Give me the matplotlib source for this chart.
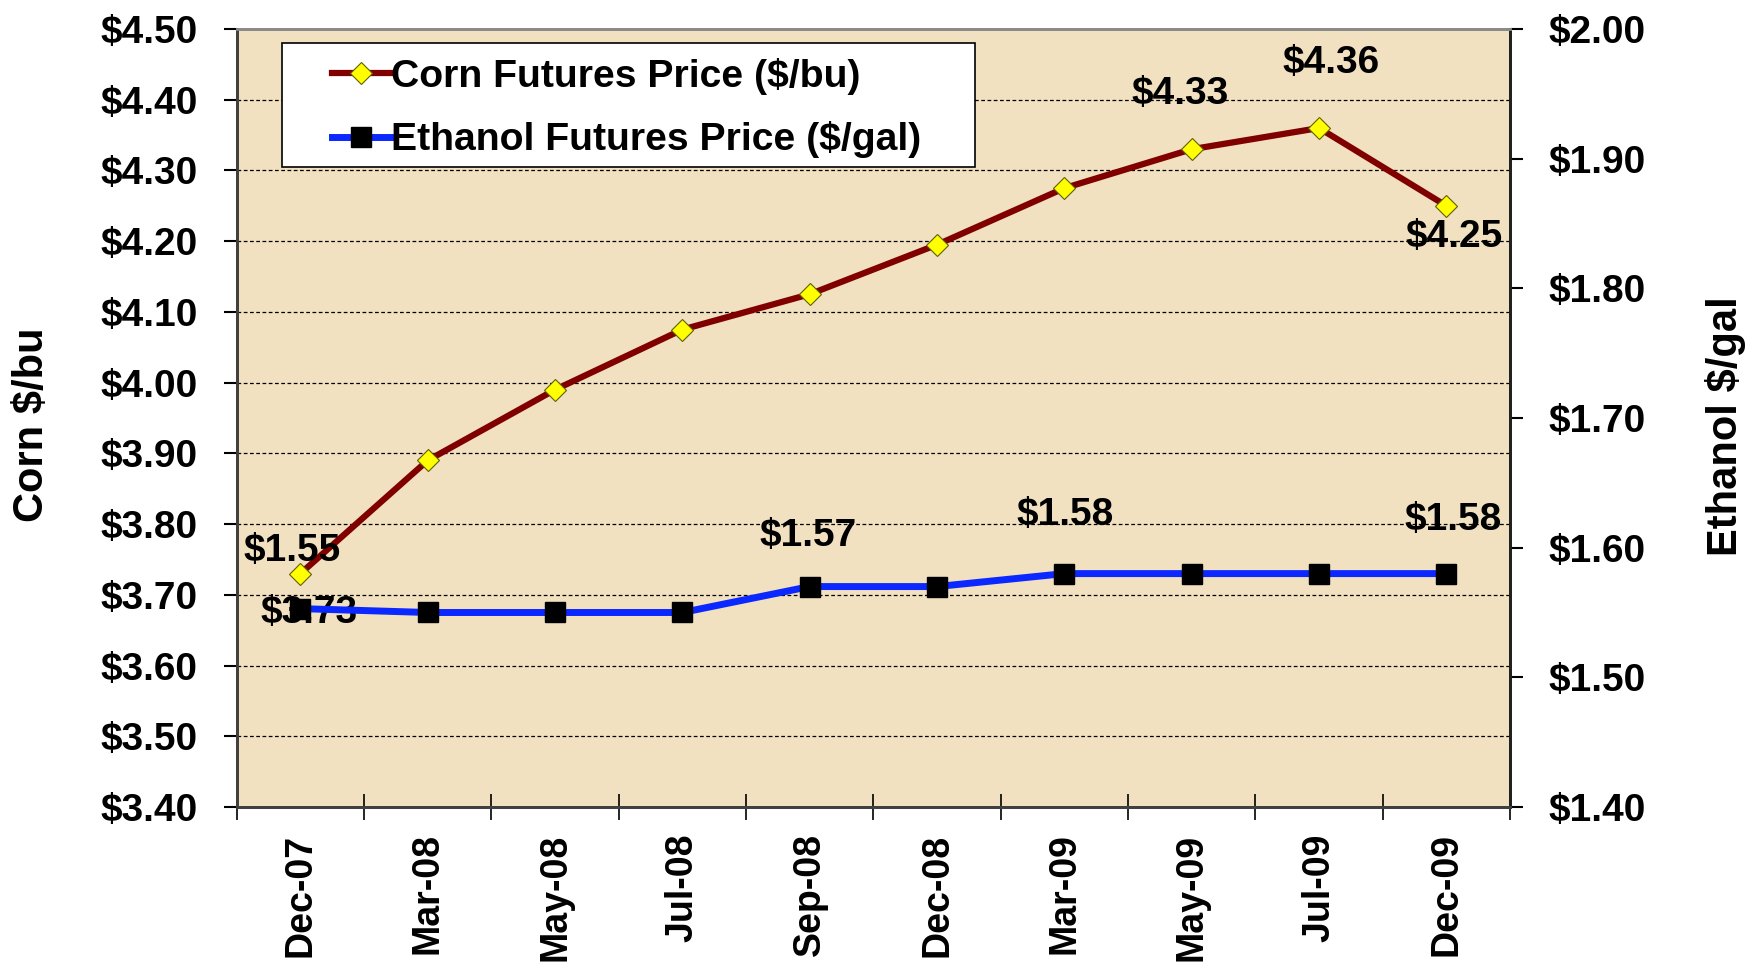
import matplotlib
matplotlib.use("Agg")
import matplotlib.pyplot as plt
from matplotlib.ticker import MultipleLocator, FixedLocator, FuncFormatter
from matplotlib.patches import Rectangle

plt.rcParams['font.family'] = ['Liberation Sans', 'DejaVu Sans']

# ---- data ----
months = ["Dec-07", "Mar-08", "May-08", "Jul-08", "Sep-08", "Dec-08",
          "Mar-09", "May-09", "Jul-09", "Dec-09"]
corn = [3.73, 3.89, 3.99, 4.075, 4.125, 4.195, 4.275, 4.33, 4.36, 4.25]
ethanol = [1.553, 1.55, 1.55, 1.55, 1.57, 1.57, 1.58, 1.58, 1.58, 1.58]

corn_labels = {0: "$3.73", 7: "$4.33", 8: "$4.36", 9: "$4.25"}
eth_labels = {0: "$1.55", 4: "$1.57", 6: "$1.58", 9: "$1.58"}
# label offsets in pixels (dx, dy up-positive)
corn_off = {0: (9, -39), 7: (-12, 55), 8: (12, 65), 9: (8, -31)}
eth_off = {0: (-8, 58), 4: (-2, 51), 6: (1, 59), 9: (7, 54)}

W, H = 1762, 964
fig = plt.figure(figsize=(W / 100, H / 100), dpi=100)
fig.patch.set_facecolor("white")

ax = fig.add_axes([236.7 / W, 1 - 807 / H, 1273.3 / W, 778 / H])
ax.set_facecolor("#F1E1C0")
ax2 = ax.twinx()

x = list(range(len(months)))

ax.set_ylim(3.40, 4.50)
ax.yaxis.set_major_locator(MultipleLocator(0.1))
ax.grid(axis="y", color="black", linestyle=(0, (3, 2)), linewidth=0.9)
ax.set_axisbelow(True)

corn_line, = ax.plot(x, corn, color="#800000", linewidth=4.5,
                     marker="D", markersize=11.5, markerfacecolor="#FFFF00",
                     markeredgecolor="#606000", markeredgewidth=0.8, zorder=3)

ax2.set_ylim(1.40, 2.00)
ax2.yaxis.set_major_locator(MultipleLocator(0.1))
eth_line, = ax2.plot(x, ethanol, color="#0A28FF", linewidth=5,
                     marker="s", markersize=14, markerfacecolor="black",
                     markeredgecolor="black", zorder=3)

ax.set_xlim(-0.5, len(months) - 0.5)

fmt = FuncFormatter(lambda v, p: f"${v:.2f}")
ax.yaxis.set_major_formatter(fmt)
ax2.yaxis.set_major_formatter(fmt)

ax.tick_params(axis="y", which="major", direction="out", length=9.5, width=1.5,
               pad=18.5, labelsize=28)
ax2.tick_params(axis="y", which="major", direction="out", length=9.5, width=1.5,
                pad=18, labelsize=28)
for lab in ax.get_yticklabels() + ax2.get_yticklabels():
    lab.set_fontweight("bold")

ax.set_xticks(x)
ax.set_xticklabels(months, rotation=90, fontsize=27, fontweight="bold")
ax.tick_params(axis="x", which="major", length=0, pad=19)
ax.xaxis.set_minor_locator(FixedLocator([i - 0.5 for i in range(len(months) + 1)]))
ax.tick_params(axis="x", which="minor", direction="inout", length=19, width=1.2)
ax2.tick_params(axis="x", which="both", length=0)

for a in (ax, ax2):
    for s in ("left", "bottom"):
        a.spines[s].set_color("#404040")
        a.spines[s].set_linewidth(2)
    a.spines["top"].set_color("#8a8a8a")
    a.spines["top"].set_linewidth(2)
    a.spines["right"].set_color("#202020")
    a.spines["right"].set_linewidth(2)

lab_font = dict(fontsize=28, fontweight="bold", ha="center", va="center",
                textcoords="offset points", zorder=6)
for i, t in corn_labels.items():
    dx, dy = corn_off[i]
    ax.annotate(t, xy=(x[i], corn[i]), xytext=(dx * 0.72, dy * 0.72), **lab_font)
for i, t in eth_labels.items():
    dx, dy = eth_off[i]
    ax2.annotate(t, xy=(x[i], ethanol[i]), xytext=(dx * 0.72, dy * 0.72), **lab_font)

# legend box (wide Excel-style padding)
box = Rectangle((0.0356, 0.8226), 0.5798 - 0.0356, 0.982 - 0.8226,
                transform=ax2.transAxes, facecolor="white", edgecolor="black",
                linewidth=1.2, zorder=9)
ax2.add_patch(box)

handles = [corn_line, eth_line]
labels = ["Corn Futures Price ($/bu)", "Ethanol Futures Price ($/gal)"]
leg = ax2.legend(handles, labels, loc="center left",
                 bbox_to_anchor=(0.0748, 0.8985), borderaxespad=0,
                 prop=dict(size=28.2, weight="bold"), frameon=False,
                 handlelength=1.47, handletextpad=0.05, labelspacing=0.68,
                 borderpad=0, markerscale=1.0)
leg.set_zorder(10)

fig.text(32 / W, 1 - 424.5 / H, "Corn $/bu", rotation=90, fontsize=30,
         fontweight="bold", ha="center", va="center")
fig.text(1726 / W, 1 - 426.5 / H, "Ethanol $/gal", rotation=90, fontsize=30,
         fontweight="bold", ha="center", va="center")

fig.savefig("out.png", dpi=100, facecolor="white")
